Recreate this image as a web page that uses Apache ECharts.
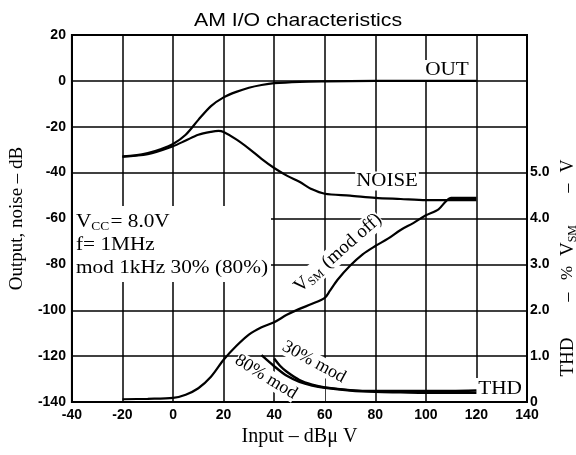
<!DOCTYPE html>
<html><head><meta charset="utf-8">
<script src="https://cdn.jsdelivr.net/npm/echarts@6/dist/echarts.min.js"></script>
<style>html,body{margin:0;padding:0;background:#fff}#c{width:576px;height:455px}</style>
</head><body><div id="c"></div>
<script>
// Axis ticks
const xTicks = [-40, -20, 0, 20, 40, 60, 80, 100, 120, 140];
const leftTicks = [20, 0, -20, -40, -60, -80, -100, -120, -140];
const rightTickLabels = ['0', '1.0', '2.0', '3.0', '4.0', '5.0'];

// OUT (dB, left axis)
const outX = [-20, -15, -10, -5, 0, 5, 10, 15, 20, 25, 30, 35, 40, 50, 60, 80, 100, 120];
const outY = [-33, -32.5, -31.5, -29.8, -27.5, -23.5, -17, -11, -7.2, -4.8, -3, -1.8, -1, -0.4, -0.2, 0, 0, 0];

// NOISE (dB, left axis)
const noiseX = [-20, -10, 0, 5, 10, 15, 18, 20, 25, 30, 35, 40, 45, 50, 55, 60, 70, 80, 90, 100, 110, 120];
const noiseY = [-33, -32, -28.5, -26, -23.5, -22.2, -21.8, -22.3, -25.5, -29.5, -34, -38, -41.3, -44, -47.3, -49.2, -50, -51, -51.5, -52, -52, -52];

// VSM mod off (V, right axis)
const vsmX = [-20, -10, 0, 5, 10, 15, 20, 25, 30, 35, 40, 45, 50, 55, 60, 62, 65, 70, 75, 80, 85, 90, 95, 100, 105, 108, 110, 115, 120];
const vsmY = [0.06, 0.07, 0.09, 0.16, 0.3, 0.55, 0.92, 1.22, 1.47, 1.63, 1.74, 1.9, 2.03, 2.14, 2.27, 2.42, 2.66, 2.97, 3.22, 3.4, 3.56, 3.75, 3.9, 4.07, 4.2, 4.38, 4.45, 4.45, 4.45];

// THD (%, right axis)
const thd80X = [35, 40, 45, 50, 55, 60, 70, 80, 90, 100, 110, 120];
const thd80Y = [1.02, 0.78, 0.57, 0.44, 0.36, 0.31, 0.25, 0.22, 0.21, 0.2, 0.2, 0.2];
const thd30X = [40, 42.5, 45, 50, 55, 60, 70, 80, 90, 100, 110, 120];
const thd30Y = [0.95, 0.78, 0.66, 0.48, 0.38, 0.32, 0.26, 0.24, 0.24, 0.24, 0.24, 0.25];

const pair = (xs, ys) => xs.map((x, i) => [x, ys[i]]);
const SERIF = '"Liberation Serif","DejaVu Serif",serif';
const SANS = '"Liberation Sans",Arial,sans-serif';

const lineSeries = (name, xs, ys, yIdx, w) => ({
  name, type: 'line', yAxisIndex: yIdx, data: pair(xs, ys),
  smooth: 0.3, showSymbol: false, symbol: 'none',
  lineStyle: { color: '#000', width: w || 2 }, z: 5, animation: false
});

const serifRich = (size) => ({
  a: { fontFamily: SERIF, fontSize: size, fill: '#000' },
  s: { fontFamily: SERIF, fontSize: Math.round(size * 0.62), padding: [Math.round(size * 0.45), 1, 0, 0], fill: '#000' }
});

const chart = echarts.init(document.getElementById('c'), null, { renderer: 'canvas' });
chart.setOption({
  animation: false,
  backgroundColor: '#fff',
  grid: { left: 71, right: 49, top: 35, bottom: 53, show: true, borderColor: '#000', borderWidth: 2 },
  xAxis: {
    type: 'value', min: xTicks[0], max: xTicks[xTicks.length - 1], interval: 20,
    name: 'Input – dBμ V', nameLocation: 'middle', nameGap: 22,
    nameTextStyle: { fontFamily: SERIF, fontSize: 20, color: '#000' },
    axisLine: { onZero: false, lineStyle: { color: '#000', width: 2 } },
    axisTick: { show: false },
    axisLabel: { color: '#000', fontFamily: SANS, fontWeight: 'bold', fontSize: 14, margin: 6 },
    splitLine: { show: true, lineStyle: { color: '#000', width: 1.5 } }
  },
  yAxis: [{
    type: 'value', min: -140, max: 20, interval: 20, position: 'left',
    name: 'Output, noise – dB', nameLocation: 'middle', nameGap: 35, nameRotate: 90,
    nameTextStyle: { fontFamily: SERIF, fontSize: 19, color: '#000' },
    axisLine: { show: true, onZero: false, lineStyle: { color: '#000', width: 2 } },
    axisTick: { show: false },
    axisLabel: { color: '#000', fontFamily: SANS, fontWeight: 'bold', fontSize: 14, margin: 6 },
    splitLine: { show: true, lineStyle: { color: '#000', width: 1.5 } }
  }, {
    type: 'value', min: 0, max: 8, interval: 1, position: 'right',
    axisLine: { show: true, onZero: false, lineStyle: { color: '#000', width: 2 } },
    axisTick: { show: false },
    axisLabel: { color: '#000', fontFamily: SANS, fontWeight: 'bold', fontSize: 14, margin: 3,
      formatter: v => (v < rightTickLabels.length ? rightTickLabels[v] : '') },
    splitLine: { show: false }
  }],
  series: [
    lineSeries('OUT', outX, outY, 0, 2.2),
    lineSeries('NOISE', noiseX, noiseY, 0, 2.2),
    lineSeries('VSM', vsmX, vsmY, 1, 2.2),
    lineSeries('THD 80%', thd80X, thd80Y, 1, 2.4),
    lineSeries('THD 30%', thd30X, thd30Y, 1, 2.4)
  ],
  graphic: [
    { type: 'text', x: 298, y: 21, scaleX: 1.12, z: 10,
      style: { text: 'AM I/O characteristics', font: '19px ' + SANS, fill: '#000', align: 'center', verticalAlign: 'middle' } },
    // white boxes covering grid behind annotations
    { type: 'rect', shape: { x: 73, y: 206, width: 198, height: 76 }, style: { fill: '#fff' }, z: 1 },
    { type: 'rect', shape: { x: 422, y: 60, width: 50, height: 20 }, style: { fill: '#fff' }, z: 1 },
    { type: 'rect', shape: { x: 475, y: 378, width: 51, height: 23 }, style: { fill: '#fff' }, z: 1 },
    { type: 'rect', shape: { x: 321, y: 358, width: 4, height: 43 }, style: { fill: '#fff' }, z: 1 },
    { type: 'text', x: 76, y: 211, scaleX: 1.12, z: 10,
      style: { text: '{a|V}{s|CC}{a|= 8.0V}\n{a|f= 1MHz}\n{a|mod 1kHz 30% (80%)}',
        rich: { a: { fontFamily: SERIF, fontSize: 19, lineHeight: 23, fill: '#000' },
                s: { fontFamily: SERIF, fontSize: 12, lineHeight: 23, padding: [8, 1, 0, 0], fill: '#000' } } } },
    { type: 'text', x: 447, y: 70, scaleX: 1.12, z: 10,
      style: { text: 'OUT', font: '19px ' + SERIF, fill: '#000', align: 'center', verticalAlign: 'middle' } },
    { type: 'text', x: 387, y: 181, scaleX: 1.1, z: 10,
      style: { text: 'NOISE', font: '19px ' + SERIF, fill: '#000', align: 'center', verticalAlign: 'middle', backgroundColor: '#fff', padding: [0, 1] } },
    { type: 'text', x: 500, y: 389, scaleX: 1.12, z: 10,
      style: { text: 'THD', font: '19px ' + SERIF, fill: '#000', align: 'center', verticalAlign: 'middle' } },
    { type: 'text', x: 338, y: 253, rotation: 0.72, z: 10,
      style: { text: '{a|V}{s|SM}{a| (mod off)}', align: 'center', verticalAlign: 'middle',
        backgroundColor: '#fff', rich: serifRich(19) } },
    { type: 'text', x: 314, y: 362, rotation: -0.5, z: 10,
      style: { text: '30% mod', font: '18px ' + SERIF, fill: '#000', align: 'center', verticalAlign: 'middle', backgroundColor: '#fff' } },
    { type: 'text', x: 266, y: 377, rotation: -0.55, z: 10,
      style: { text: '80% mod', font: '18px ' + SERIF, fill: '#000', align: 'center', verticalAlign: 'middle', backgroundColor: '#fff' } },
    // right-hand axis titles (vertical)
    { type: 'text', x: 568, y: 166, rotation: Math.PI / 2, z: 10,
      style: { text: 'V', font: '18px ' + SERIF, fill: '#000', align: 'center', verticalAlign: 'middle' } },
    { type: 'text', x: 568, y: 188, rotation: Math.PI / 2, z: 10,
      style: { text: '–', font: '18px ' + SERIF, fill: '#000', align: 'center', verticalAlign: 'middle' } },
    { type: 'text', x: 568, y: 240, rotation: Math.PI / 2, z: 10,
      style: { text: '{a|V}{s|SM}', align: 'center', verticalAlign: 'middle', rich: serifRich(19) } },
    { type: 'text', x: 568, y: 273, rotation: Math.PI / 2, z: 10,
      style: { text: '%', font: '17px ' + SERIF, fill: '#000', align: 'center', verticalAlign: 'middle' } },
    { type: 'text', x: 568, y: 297, rotation: Math.PI / 2, z: 10,
      style: { text: '–', font: '18px ' + SERIF, fill: '#000', align: 'center', verticalAlign: 'middle' } },
    { type: 'text', x: 568, y: 357, rotation: Math.PI / 2, z: 10,
      style: { text: 'THD', font: '19px ' + SERIF, fill: '#000', align: 'center', verticalAlign: 'middle' } }
  ]
});
</script></body></html>
